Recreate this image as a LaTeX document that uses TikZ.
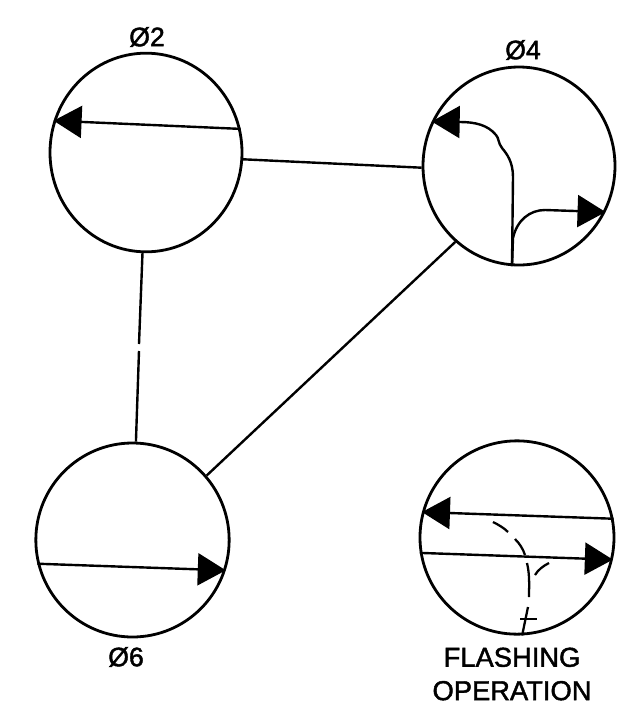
\documentclass[tikz,border=0pt]{standalone}
\usepackage{fontspec}
\setmainfont[FakeBold=1.6]{Liberation Sans}
\usetikzlibrary{arrows.meta,shapes.geometric}

\begin{document}
\begin{tikzpicture}[x=0.75pt, y=-0.75pt]
    % Define styles
    \tikzset{
        phasor/.style={ellipse, draw, line width=2.1pt, inner sep=0pt},
        phlabel/.style={font=\fontsize{20}{25}\selectfont, inner sep=0pt, align=center},
        wire/.style={line width=1.8pt},
        vector/.style={line width=1.8pt, -{Triangle[length=21pt, width=24pt]}},
        flash/.style={line width=1.7pt}
    }
    \useasboundingbox (0,0) rectangle (622,726);

    % Create nodes
    \node [phasor, minimum width=144pt, minimum height=149pt] (ph2) at (146,152.5) {};
    \node [phasor, minimum width=144pt, minimum height=148.5pt] (ph4) at (519,166) {};
    \node [phasor, minimum width=145pt, minimum height=145.5pt] (ph6) at (132.5,540) {};
    \node [phasor, minimum width=145.5pt, minimum height=145pt] (flash) at (517,537.5) {};

    \node [phlabel] (ph2label) at (147,37) {\O 2};
    \node [phlabel] (ph4label) at (523,50) {\O 4};
    \node [phlabel] (ph6label) at (126,657) {\O 6};
    \node [phlabel, font=\fontsize{20.5}{25}\selectfont] (flashlabel) at (512,674) {FLASHING\\OPERATION};

    % Create connectors
    \coordinate (gapa) at (139,344);
    \coordinate (gapb) at (139,351);
    \draw [wire] (ph2.-4.5) -- (ph4.181);
    \draw [wire] (ph2.-92.3) -- (gapa);
    \draw [wire] (gapb) -- (ph6.88.5);
    \draw [wire] (ph4.-130.6) -- (ph6.41);

    % Create vectors
    \draw [vector] (ph2.14.9) -- (ph2.161.8);
    \draw [vector] (ph6.194) -- (ph6.-18);
    \draw [vector] (ph4.-94) -- (513,177) .. controls (513,162) and (507,154) .. (502,148)
        .. controls (498,143) and (499,138) .. (496,135) .. controls (488,125) and (475,122) .. (460,122) -- (ph4.153);
    \draw [vector] (ph4.-94) -- (513,238) .. controls (517,220) and (530,210) .. (545,210) -- (ph4.-28.1);
    \draw [vector] (flash.11) -- (flash.165.7);
    \draw [vector] (flash.189) -- (flash.-13.3);

    % Add flashing paths
    \draw [flash] (493,522) .. controls (499,525) and (504,528) .. (508,532);
    \draw [flash] (515,539) .. controls (520,544) and (523,549) .. (525,555);
    \draw [flash] (527,563) .. controls (530,575) and (529,588) .. (529,597);
    \draw [flash] (535,575) .. controls (538,570) and (543,566) .. (549,563);
    \draw [flash] (528,607) -- (flash.-87);
    \draw [flash] (520,619) -- (537,619);
\end{tikzpicture}
\end{document}
